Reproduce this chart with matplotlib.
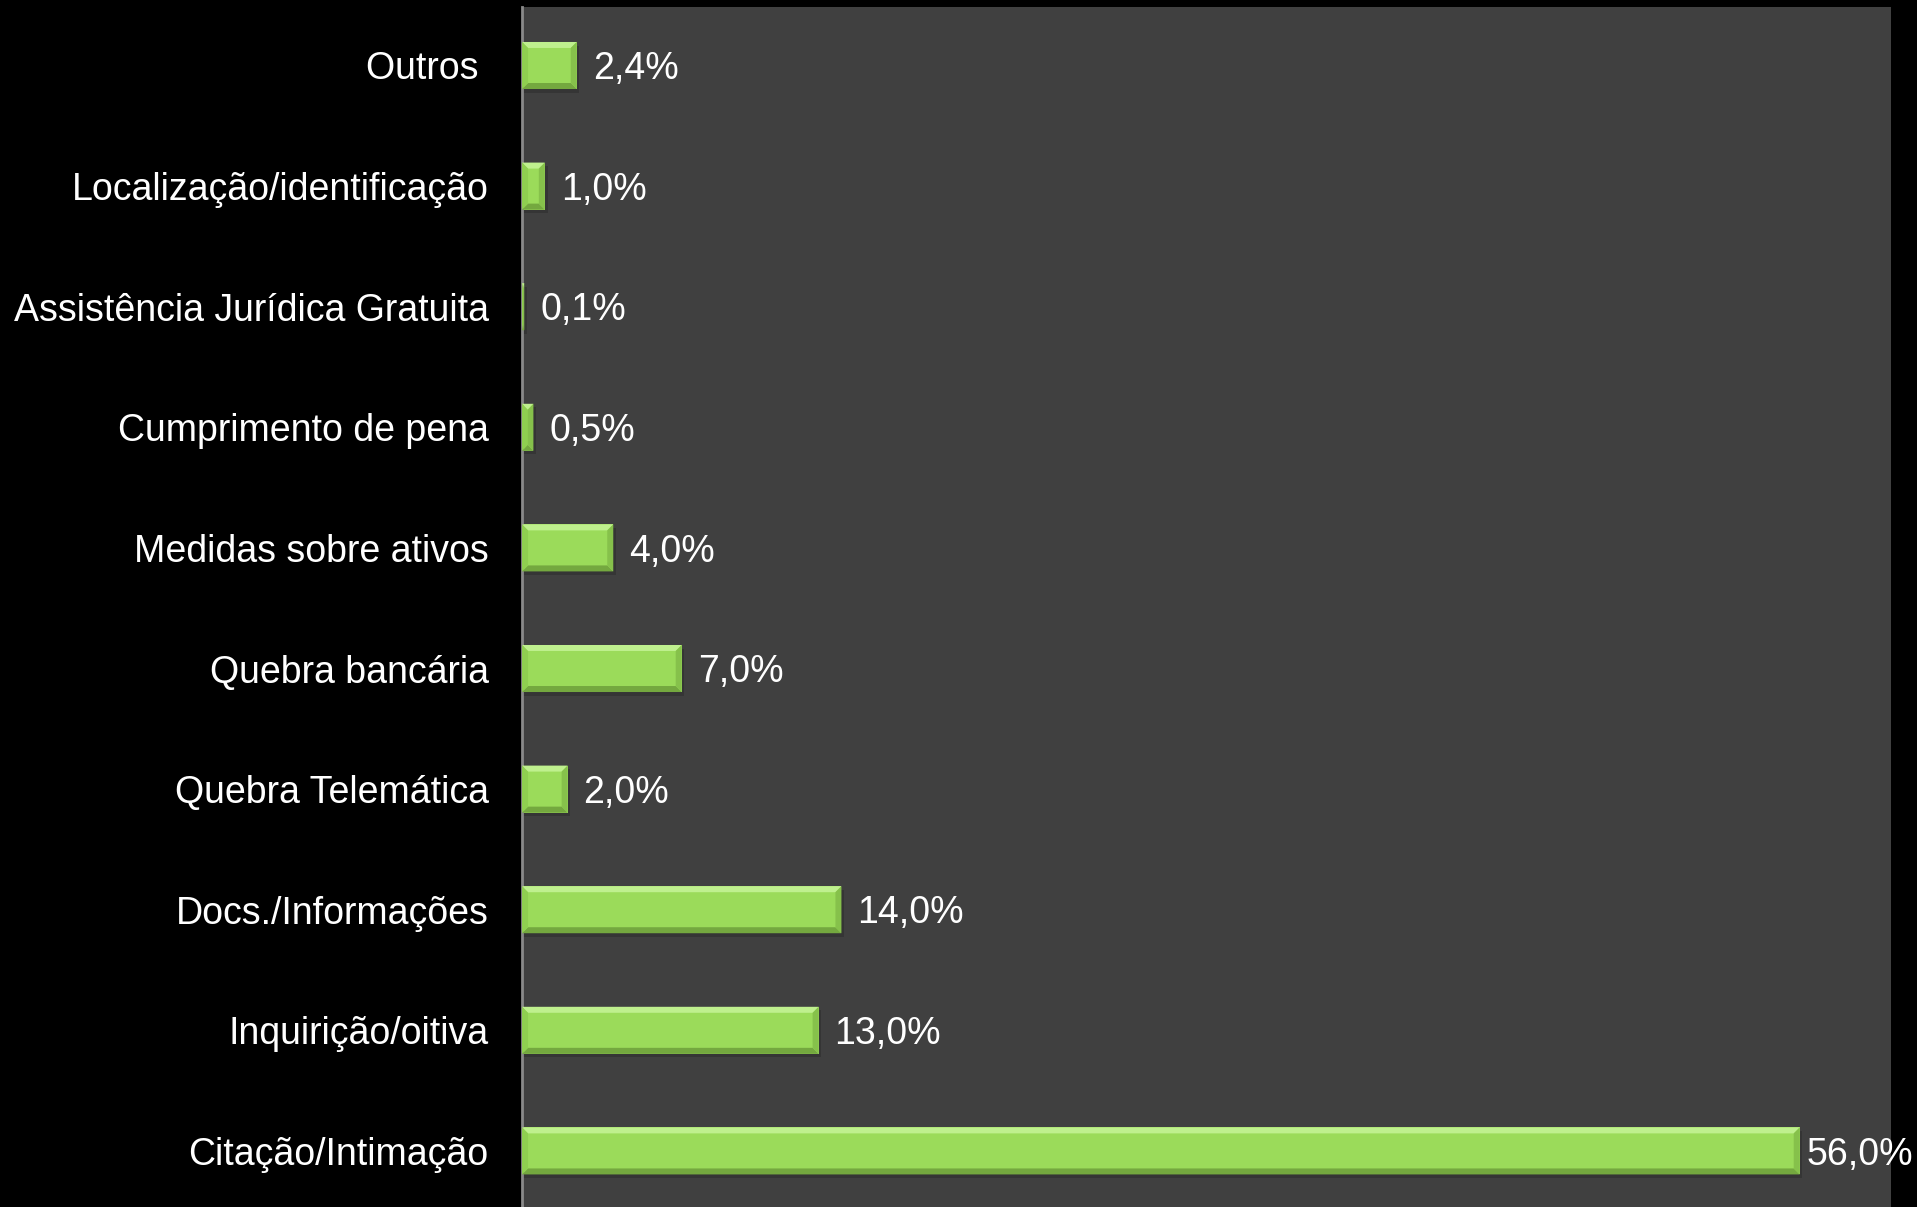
import matplotlib
matplotlib.use('Agg')
import matplotlib.pyplot as plt
from matplotlib.patches import Polygon

plt.rcParams['font.family'] = ['Liberation Sans', 'DejaVu Sans']

# categories bottom to top
categories = ['Citação/Intimação', 'Inquirição/oitiva', 'Docs./Informações',
              'Quebra Telemática', 'Quebra bancária', 'Medidas sobre ativos',
              'Cumprimento de pena', 'Assistência Jurídica Gratuita',
              'Localização/identificação', 'Outros ']
values = [56.0, 13.0, 14.0, 2.0, 7.0, 4.0, 0.5, 0.1, 1.0, 2.4]
value_labels = ['56,0%', '13,0%', '14,0%', '2,0%', '7,0%', '4,0%',
                '0,5%', '0,1%', '1,0%', '2,4%']

W, H = 1917, 1207
fig = plt.figure(figsize=(W / 100, H / 100), dpi=100, facecolor='black')
ax = fig.add_axes([522 / W, 0, (1891 - 522) / W, 1 - 7 / H])
ax.set_facecolor('#404040')

ypos = list(range(len(categories)))
bar_h = 0.39
green = '#9bdb5a'

ax.set_xlim(0, 60)
ax.set_ylim(-0.465, 9.485)

# drop shadow
ax.barh([y - 0.03 for y in ypos], [v + 0.12 for v in values], height=bar_h,
        left=0, color='#2e2e2e', alpha=0.6, zorder=1)
bars = ax.barh(ypos, values, height=bar_h, color=green, zorder=2)

# bevel edges on each bar
bx = 6 / 22.8
by = 6 / 120.6
for y, v in zip(ypos, values):
    b = min(bx, v / 2)
    y0, y1 = y - bar_h / 2, y + bar_h / 2
    ax.add_patch(Polygon([(0, y1), (v, y1), (v - b, y1 - by), (b, y1 - by)],
                         closed=True, color='#bff08e', lw=0, zorder=3))
    ax.add_patch(Polygon([(0, y0), (v, y0), (v - b, y0 + by), (b, y0 + by)],
                         closed=True, color='#74a83f', lw=0, zorder=3))
    ax.add_patch(Polygon([(0, y0), (0, y1), (b, y1 - by), (b, y0 + by)],
                         closed=True, color='#8fcf50', lw=0, zorder=3))
    ax.add_patch(Polygon([(v, y0), (v, y1), (v - b, y1 - by), (v - b, y0 + by)],
                         closed=True, color='#86c14b', lw=0, zorder=3))

for y, v, lab in zip(ypos, values, value_labels):
    off = 0.3 if v > 50 else 0.7
    ax.text(v + off, y - 0.03, lab, color='white', fontsize=27, va='center',
            ha='left', zorder=4, clip_on=False)

ax.set_yticks(ypos)
ax.set_yticklabels(categories, color='white', fontsize=27)
ax.tick_params(axis='y', length=0, pad=24)
ax.set_xticks([])
for s in ['top', 'right', 'bottom']:
    ax.spines[s].set_visible(False)
ax.spines['left'].set_color('#8a8a8a')
ax.spines['left'].set_linewidth(2)

fig.savefig('out.png', dpi=100, facecolor='black')
